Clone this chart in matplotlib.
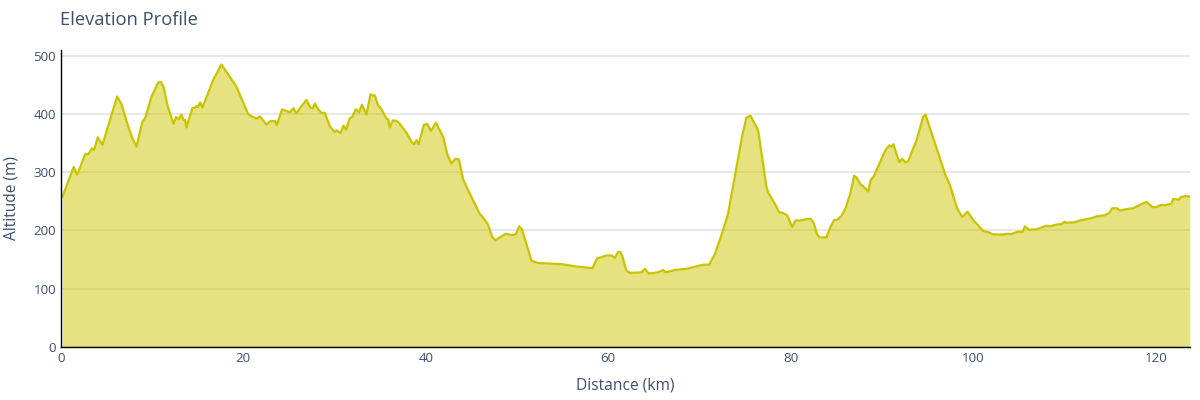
import matplotlib
matplotlib.use('Agg')
import matplotlib.pyplot as plt

distance_km = [0.18,1.42,1.79,2.16,2.67,3.0,3.43,3.65,4.05,4.57,6.17,6.65,7.38,7.85,8.29,8.95,9.28,9.94,10.67,10.96,11.25,11.69,12.35,12.64,12.93,13.22,13.44,13.62,13.77,14.06,14.43,14.72,14.94,15.05,15.27,15.52,16.69,17.6,19.25,20.53,20.9,21.5,21.8,22.54,22.98,23.45,23.67,24.25,24.58,25.1,25.5,25.8,26.4,26.92,27.36,27.6,27.84,28.2,28.56,28.93,29.48,30.03,30.2,30.65,30.98,31.27,31.67,31.96,32.33,32.7,33.0,33.5,33.94,34.15,34.4,34.78,35.07,35.7,35.88,36.05,36.4,36.8,37.15,
 37.88,38.43,38.72,38.98,39.23,39.78,40.15,40.58,41.1,41.9,42.37,42.81,43.25,43.62,44.09,44.64,45.92,46.28,46.79,47.27,47.63,48.1,48.73,49.39,49.86,50.23,50.56,51.58,52.31,53.59,54.87,56.51,58.26,58.78,59.25,59.8,60.35,60.71,61.08,61.33,61.55,61.99,62.36,63.63,64.0,64.44,65.46,66.0,66.27,66.56,67.29,68.57,70.39,71.05,71.67,72.58,73.13,73.86,74.67,75.14,75.58,76.42,77.33,77.55,78.25,78.72,79.16,79.6,80.15,80.5,80.99,
 81.79,82.2,82.52,82.89,83.18,83.91,84.35,84.75,85.08,85.56,86.0,86.54,86.94,87.2,87.64,88.0,88.48,88.77,89.1,90.38,90.78,91.0,91.25,91.88,92.2,92.57,92.86,93.78,94.5,94.76,96.95,97.43,98.23,98.78,99.36,99.99,101.08,101.63,102.18,103.27,103.56,104.19,104.92,105.39,105.65,106.12,106.93,108.02,108.39,109.12,109.67,110.03,110.21,111.13,111.67,112.95,113.5,114.41,114.89,115.22,115.76,116.06,116.6,116.97,117.52,118.43,118.98,119.64,120.0,120.62,120.99,121.72,121.9,122.52,122.74,123.18,123.73]
altitude_m = [258,309,296,310,331,331,341,338,360,347,430,417,379,358,344,387,394,430,454,455,447,415,383,395,391,399,390,390,377,392,410,411,414,412,420,411,458,485,447,400,396,392,396,382,388,388,381,408,406,403,410,401,414,424,411,410,418,408,402,402,379,369,372,367,380,373,393,395,408,403,416,399,434,432,432,415,410,392,391,377,389,388,383,
 368,352,348,355,348,381,383,371,385,361,330,315,323,322,288,269,228,222,211,189,183,188,194,192,193,207,201,148,144,143,142,138,135,152,154,157,157,153,163,163,155,131,127,128,134,126,128,132,128,129,132,134,141,141,159,200,229,292,362,394,397,372,275,264,246,231,230,226,206,217,217,
 219.5,220,212,193,188,188,206,218,218,225,238,264,294,291,279,275,267,287,293,338,346,344,348,317,323,317,319,355,395,399,295,278,238,223,232,218,199,197,193,193,194,194,198,197,207,201,202,208,207,210,211,215,213,214,217,221,224,226,230,238,238,234,236,237,238,245,249,240,240,244,243,246,254,253,257,259,258]
x_ticks = [0,20,40,60,80,100,120]
y_ticks = [0,100,200,300,400,500]
title = 'Elevation Profile'
x_label = 'Distance (km)'
y_label = 'Altitude (m)'

INK = '#3d4f6d'
plt.rcParams['font.family'] = ['Open Sans', 'DejaVu Sans']
fig = plt.figure(figsize=(12, 4), dpi=100, facecolor='white')
ax = fig.add_axes([60.8/1200, (400-346.8)/400, (1190-60.8)/1200, 296.8/400])
ax.set_xlim(0, 1129.2/9.125)
ax.set_ylim(0, 296.8/0.582)
ax.fill_between(distance_km, altitude_m, 0, color='#cdc700', alpha=0.5, lw=0, zorder=3)
ax.plot(distance_km, altitude_m, color='#c9c300', lw=1.6, zorder=4, solid_joinstyle='round')
ax.set_xticks(x_ticks)
ax.set_yticks(y_ticks)
ax.grid(axis='y', color='#e2e2e2', lw=1.1, zorder=1)
ax.grid(axis='x', visible=False)
ax.set_axisbelow(True)
ax.tick_params(length=0, labelsize=9.6, labelcolor=INK, pad=3.5)
for s in ['top', 'right']:
    ax.spines[s].set_visible(False)
for s in ['left', 'bottom']:
    ax.spines[s].set_color('black')
    ax.spines[s].set_linewidth(1)
    ax.spines[s].set_zorder(5)
fig.text(60/1200, 1-20/400, title, fontsize=13.2, color=INK, va='center', ha='left')
fig.text(625/1200, 1-385/400, x_label, fontsize=11.2, color=INK, va='center', ha='center')
fig.text(11.5/1200, 1-198/400, y_label, fontsize=11.2, color=INK, va='center', ha='center', rotation=90)
fig.savefig('out.png', dpi=100, facecolor='white')
